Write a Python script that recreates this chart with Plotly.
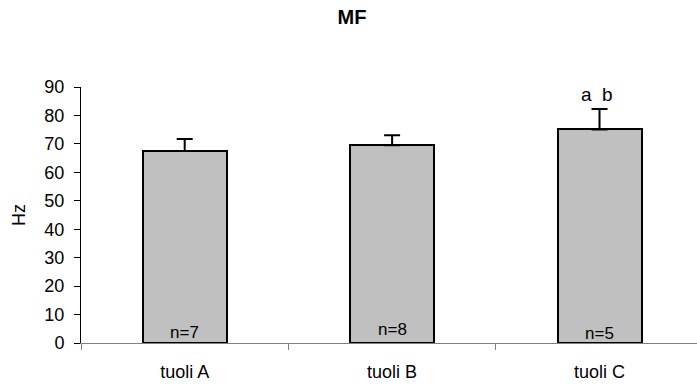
import plotly.graph_objects as go

categories = ["tuoli A", "tuoli B", "tuoli C"]
values = [67.5, 69.5, 75.1]
errors_up = [4.2, 3.5, 7.2]
n_labels = ["n=7", "n=8", "n=5"]
n_shift = [0, 3, -1]
sig_labels = ["", "", "a\u00a0\u00a0b"]
y_ticks = [0, 10, 20, 30, 40, 50, 60, 70, 80, 90]

FONT = "Arial, Liberation Sans, sans-serif"
xpos = list(range(len(categories)))

fig = go.Figure()
fig.add_trace(go.Bar(
    x=xpos, y=values, width=0.405,
    marker=dict(color="#C0C0C0", line=dict(color="black", width=2)),
    error_y=dict(type="data", symmetric=False, array=errors_up,
                 arrayminus=[0] * len(values), color="black",
                 thickness=2, width=8),
    showlegend=False, hoverinfo="skip",
))

for i, lab in enumerate(n_labels):
    fig.add_annotation(x=xpos[i], y=0, text=lab, showarrow=False,
                       yanchor="bottom", yshift=n_shift[i] - 1,
                       font=dict(family=FONT, size=17, color="black"))
for i, (lab, v, e) in enumerate(zip(sig_labels, values, errors_up)):
    if lab:
        fig.add_annotation(x=xpos[i], y=v + e, text=lab, showarrow=False,
                           yanchor="bottom", yshift=2, xshift=-3,
                           font=dict(family=FONT, size=19, color="black"))

fig.update_layout(
    width=697, height=387,
    margin=dict(l=81, r=0, t=87, b=44),
    paper_bgcolor="white", plot_bgcolor="white",
    title=dict(text="<b>MF</b>", x=0.505, xanchor="center", y=0.955, yanchor="middle",
               font=dict(family=FONT, size=20, color="black")),
    font=dict(family=FONT, color="black"),
    bargap=0,
)
fig.update_xaxes(
    range=[-0.5, 2.47], tickvals=xpos, ticktext=categories, ticks="",
    tickfont=dict(family=FONT, size=18, color="black"),
    ticklabelstandoff=12,
    showline=True, linecolor="#808080", linewidth=1,
    showgrid=False, zeroline=False,
    minor=dict(tickvals=[-0.5, 0.5, 1.5], ticks="outside", ticklen=6,
               tickcolor="#808080", tickwidth=1, showgrid=False),
)
fig.update_yaxes(
    range=[0, 90], tickvals=y_ticks, ticks="outside", ticklen=6,
    tickcolor="black", tickwidth=1,
    tickfont=dict(family=FONT, size=18, color="black"),
    ticklabelstandoff=6,
    showline=True, linecolor="black", linewidth=1,
    showgrid=False, zeroline=False,
    title=dict(text="Hz", font=dict(family=FONT, size=18, color="black"), standoff=14),
)

fig.write_html("out.html")
